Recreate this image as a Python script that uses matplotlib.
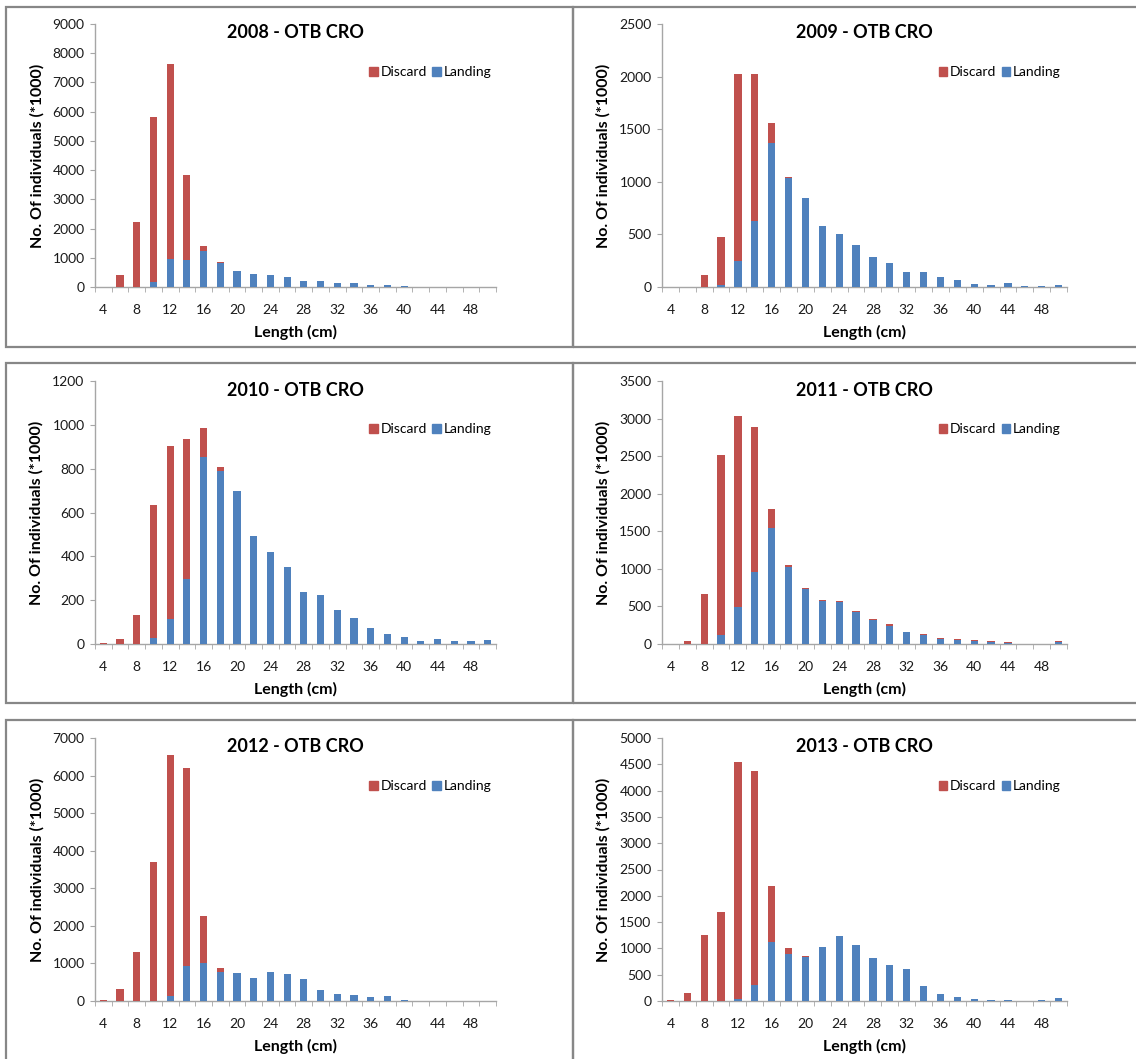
import matplotlib
matplotlib.use("Agg")
import matplotlib.pyplot as plt
from matplotlib.patches import Rectangle, Patch

plt.rcParams['font.family'] = ['Lato', 'DejaVu Sans']

# length classes (cm)
lengths = [4, 6, 8, 10, 12, 14, 16, 18, 20, 22, 24, 26, 28, 30,
           32, 34, 36, 38, 40, 42, 44, 46, 48, 50]
tick_labels = ['4', '8', '12', '16', '20', '24', '28', '32', '36', '40', '44', '48']

landing_2008 = [0, 0, 0, 180, 960, 940, 1230, 830, 560, 450, 400, 350, 220, 190,
                140, 140, 60, 60, 30, 0, 0, 0, 0, 0]
discard_2008 = [0, 420, 2220, 5650, 6670, 2880, 170, 30, 0, 0, 0, 0, 0, 0,
                0, 0, 0, 0, 0, 0, 0, 0, 0, 0]

landing_2009 = [0, 0, 0, 15, 250, 630, 1370, 1040, 845, 580, 500, 400, 285, 225,
                140, 145, 95, 65, 30, 18, 38, 8, 8, 15]
discard_2009 = [0, 0, 110, 465, 1770, 1390, 190, 10, 0, 0, 0, 0, 0, 0,
                0, 0, 0, 0, 0, 0, 0, 0, 0, 0]

landing_2010 = [0, 0, 0, 28, 112, 295, 855, 790, 700, 495, 420, 350, 237, 225,
                155, 118, 74, 47, 30, 15, 22, 15, 12, 18]
discard_2010 = [5, 22, 133, 605, 793, 640, 130, 18, 0, 0, 0, 0, 0, 0,
                0, 0, 0, 0, 0, 0, 0, 0, 0, 0]

landing_2011 = [0, 0, 0, 120, 490, 960, 1550, 1020, 730, 570, 560, 430, 315, 245,
                155, 120, 60, 55, 40, 25, 10, 0, 0, 25]
discard_2011 = [0, 40, 660, 2390, 2550, 1930, 240, 30, 15, 15, 15, 10, 15, 15,
                10, 15, 20, 10, 15, 10, 15, 0, 0, 10]

landing_2012 = [0, 0, 0, 0, 120, 920, 1020, 780, 740, 610, 760, 720, 580, 290,
                190, 150, 110, 130, 20, 0, 0, 0, 0, 0]
discard_2012 = [25, 310, 1300, 3700, 6440, 5270, 1250, 100, 0, 0, 0, 0, 0, 0,
                0, 0, 0, 0, 0, 0, 0, 0, 0, 0]

landing_2013 = [0, 0, 0, 0, 30, 310, 1120, 900, 845, 1030, 1230, 1070, 810, 690,
                605, 280, 130, 75, 45, 15, 15, 0, 10, 65]
discard_2013 = [15, 150, 1260, 1690, 4510, 4060, 1060, 100, 15, 0, 0, 0, 0, 0,
                0, 0, 0, 0, 0, 0, 0, 0, 0, 0]

titles = ['2008 - OTB CRO', '2009 - OTB CRO', '2010 - OTB CRO',
          '2011 - OTB CRO', '2012 - OTB CRO', '2013 - OTB CRO']
landings = [landing_2008, landing_2009, landing_2010, landing_2011, landing_2012, landing_2013]
discards = [discard_2008, discard_2009, discard_2010, discard_2011, discard_2012, discard_2013]
y_max = [9000, 2500, 1200, 3500, 7000, 5000]
y_step = [1000, 500, 200, 500, 1000, 500]

RED = '#C0504D'
BLUE = '#4F81BD'
AXIS_GRAY = '#A6A6A6'

W, H = 1136, 1059
fig = plt.figure(figsize=(W / 100, H / 100), dpi=100)

def px_box(left, top, right, bottom):
    return [left / W, 1 - bottom / H, (right - left) / W, (bottom - top) / H]

# panel frames (pixel coords)
frames = [(6, 7, 573, 347), (573, 7, 1145, 347),
          (6, 363, 573, 703), (573, 363, 1145, 703),
          (6, 720, 573, 1070), (573, 720, 1145, 1070)]
for l, t, r, b in frames:
    fig.patches.append(Rectangle((l / W, 1 - b / H), (r - l) / W, (b - t) / H,
                                 transform=fig.transFigure, fill=False,
                                 edgecolor='#878787', linewidth=1.6))

# axes boxes (pixel coords)
col_x = [(95, 496), (662, 1067)]
row_y = [(24, 287), (381, 644), (738, 1001)]

x = list(range(len(lengths)))
for i in range(6):
    row, col = divmod(i, 2)
    l, r = col_x[col]
    t, b = row_y[row]
    ax = fig.add_axes(px_box(l, t, r, b))

    ax.bar(x, landings[i], width=0.43, color=BLUE, label='Landing', zorder=3)
    ax.bar(x, discards[i], width=0.43, bottom=landings[i], color=RED, label='Discard', zorder=3)

    ax.set_xlim(-0.5, len(lengths) - 0.5)
    ax.set_ylim(0, y_max[i])
    ax.set_yticks(range(0, y_max[i] + 1, y_step[i]))

    ax.set_xticks(x[::2])
    ax.set_xticklabels(tick_labels)
    ax.set_xticks([v - 0.5 for v in range(len(lengths) + 1)], minor=True)
    ax.tick_params(axis='x', which='major', length=0, pad=12, labelsize=10, colors='#1a1a1a')
    ax.tick_params(axis='x', which='minor', length=3.5, color=AXIS_GRAY, direction='out')
    ax.tick_params(axis='y', length=3.5, color=AXIS_GRAY, labelsize=10, labelcolor='#1a1a1a', pad=4)

    for s in ['top', 'right']:
        ax.spines[s].set_visible(False)
    for s in ['left', 'bottom']:
        ax.spines[s].set_color(AXIS_GRAY)
        ax.spines[s].set_linewidth(1.0)

    ax.text(0.5, 1 - 9 / (b - t), titles[i], transform=ax.transAxes, ha='center', va='center',
            fontsize=13, fontweight='bold')
    ax.set_xlabel('Length (cm)', fontsize=11.5, fontweight='bold', labelpad=7)
    ax.set_ylabel('No. Of individuals (*1000)', fontsize=11.5, fontweight='bold', labelpad=6)

    handles = [Patch(color=RED), Patch(color=BLUE)]
    ax.legend(handles, ['Discard', 'Landing'], loc='center left', bbox_to_anchor=(0.66, 0.817),
              ncol=2, frameon=False, fontsize=10, handlelength=0.6, handleheight=0.6,
              handletextpad=0.2, columnspacing=0.4, borderpad=0.2)

fig.savefig('out.png', dpi=100)
